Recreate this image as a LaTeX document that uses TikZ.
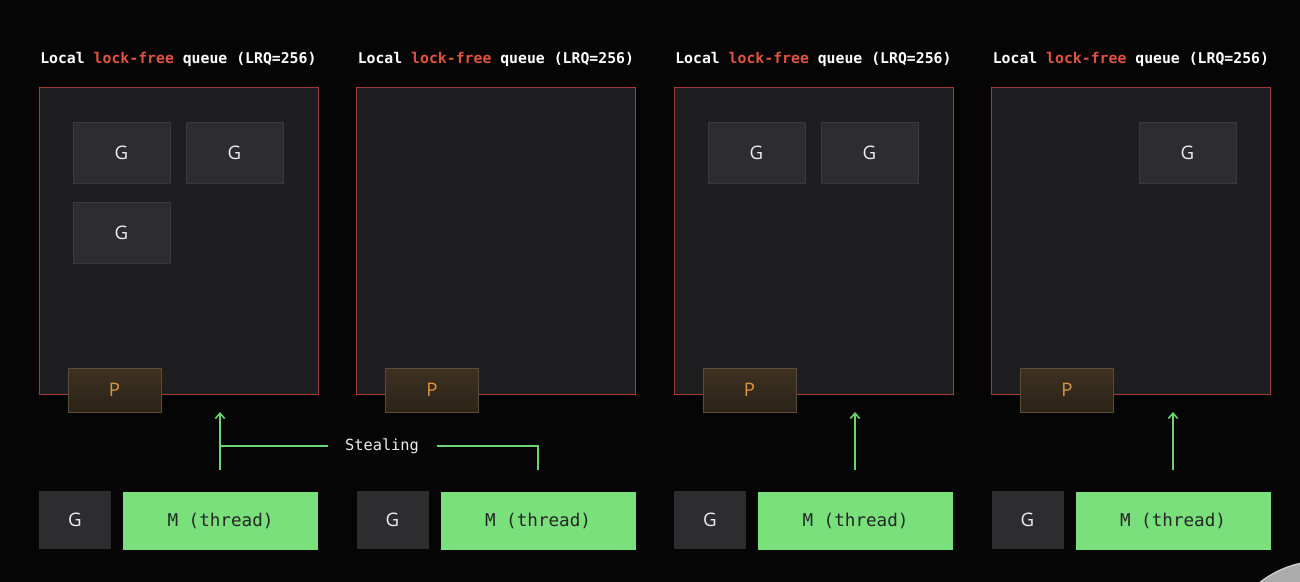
\documentclass[tikz,border=0pt]{standalone}
\usepackage{fontspec}
\setmainfont{Open Sans}
\setmonofont{DejaVu Sans Mono}
\usetikzlibrary{arrows.meta}
\definecolor{bg}{HTML}{050505}
\definecolor{panelfill}{HTML}{1E1E20}
\definecolor{panelborder}{HTML}{A33B3B}
\definecolor{gfill}{HTML}{2D2D2F}
\definecolor{gborder}{HTML}{3A3A3C}
\definecolor{ptop}{HTML}{3E3121}
\definecolor{pbot}{HTML}{2A2318}
\definecolor{pborder}{HTML}{5E4C34}
\definecolor{ptext}{HTML}{DC963F}
\definecolor{mgreen}{HTML}{79E07B}
\definecolor{arrowgreen}{HTML}{6CD46E}
\definecolor{titlered}{HTML}{E0533F}
\definecolor{textgray}{HTML}{EDEDED}
\tikzset{
  panel/.style={draw=panelborder, line width=0.6pt, fill=panelfill, minimum width=279*0.75pt, minimum height=307*0.75pt, inner sep=0pt},
  gbox/.style={draw=gborder, line width=0.5pt, fill=gfill, minimum width=97*0.75pt, minimum height=61*0.75pt, inner sep=0pt, text=textgray, font=\fontsize{14}{16}\selectfont},
  pbox/.style={draw=pborder, line width=0.6pt, top color=ptop, bottom color=pbot, minimum width=93*0.75pt, minimum height=44*0.75pt, inner sep=0pt, text=ptext, font=\fontsize{14}{16}\selectfont},
  bgbox/.style={fill=gfill, minimum width=72*0.75pt, minimum height=58*0.75pt, inner sep=0pt, text=textgray, font=\fontsize{14}{16}\selectfont},
  mbox/.style={fill=mgreen, minimum width=195*0.75pt, minimum height=58*0.75pt, inner sep=0pt, text=black!85, font=\ttfamily\fontsize{13.2}{15}\selectfont},
  titletext/.style={anchor=west, inner sep=0pt, text=white, font=\ttfamily\bfseries\fontsize{11.1}{13}\selectfont},
  arr/.style={draw=arrowgreen, line width=1.4pt, -{Straight Barb[length=4pt,width=7pt,line width=1.2pt]}},
  stealline/.style={draw=arrowgreen, line width=1.4pt},
  steallabel/.style={inner sep=0pt, text=textgray, font=\ttfamily\fontsize{11.5}{13}\selectfont}
}
\begin{document}
\begin{tikzpicture}[x=0.75pt,y=-0.75pt]
\fill[bg] (0,0) rectangle (1300,582);
\useasboundingbox (0,0) rectangle (1300,582);
\begin{scope}
\clip (0,0) rectangle (1300,582);
\fill[gray!65, draw=gray!40, line width=1pt] (1322,662) circle (101);
\end{scope}
% panels
\foreach \i/\o in {1/0,2/317.5,3/635,4/952.5}{
  \node[titletext] (title\i) at (40+\o,59) {Local \textcolor{titlered}{lock-free} queue (LRQ=256)};
  \node[panel] (panel\i) at (178.5+\o,240.5) {};
  \node[pbox] (p\i) at (114.5+\o,390) {P};
  \node[bgbox] (bg\i) at (75+\o,520) {G};
  \node[mbox] (m\i) at (220.5+\o,520.5) {M (thread)};
}
% queued goroutines
\node[gbox] (g11) at (121.5,152.5) {G};
\node[gbox] (g12) at (234.5,152.5) {G};
\node[gbox] (g13) at (121.5,232.5) {G};
\node[gbox] (g31) at (756.5,152.5) {G};
\node[gbox] (g32) at (869.5,152.5) {G};
\node[gbox] (g41) at (1187.5,152.5) {G};
% arrows M -> P
\coordinate (s1) at (220,470);
\coordinate (e1) at (220,412);
\coordinate (s3) at (855,470);
\coordinate (e3) at (855,412);
\coordinate (s4) at (1173,470);
\coordinate (e4) at (1173,412);
\draw[arr] (s1) -- (e1);
\draw[arr] (s3) -- (e3);
\draw[arr] (s4) -- (e4);
% stealing
\node[steallabel] (steal) at (382,446) {Stealing};
\coordinate (sl) at (220,446);
\coordinate (sr) at (538,446);
\coordinate (srd) at (538,470);
\draw[stealline] (sl) -- (328,446);
\draw[stealline] (437,446) -- (sr) -- (srd);
\end{tikzpicture}
\end{document}
